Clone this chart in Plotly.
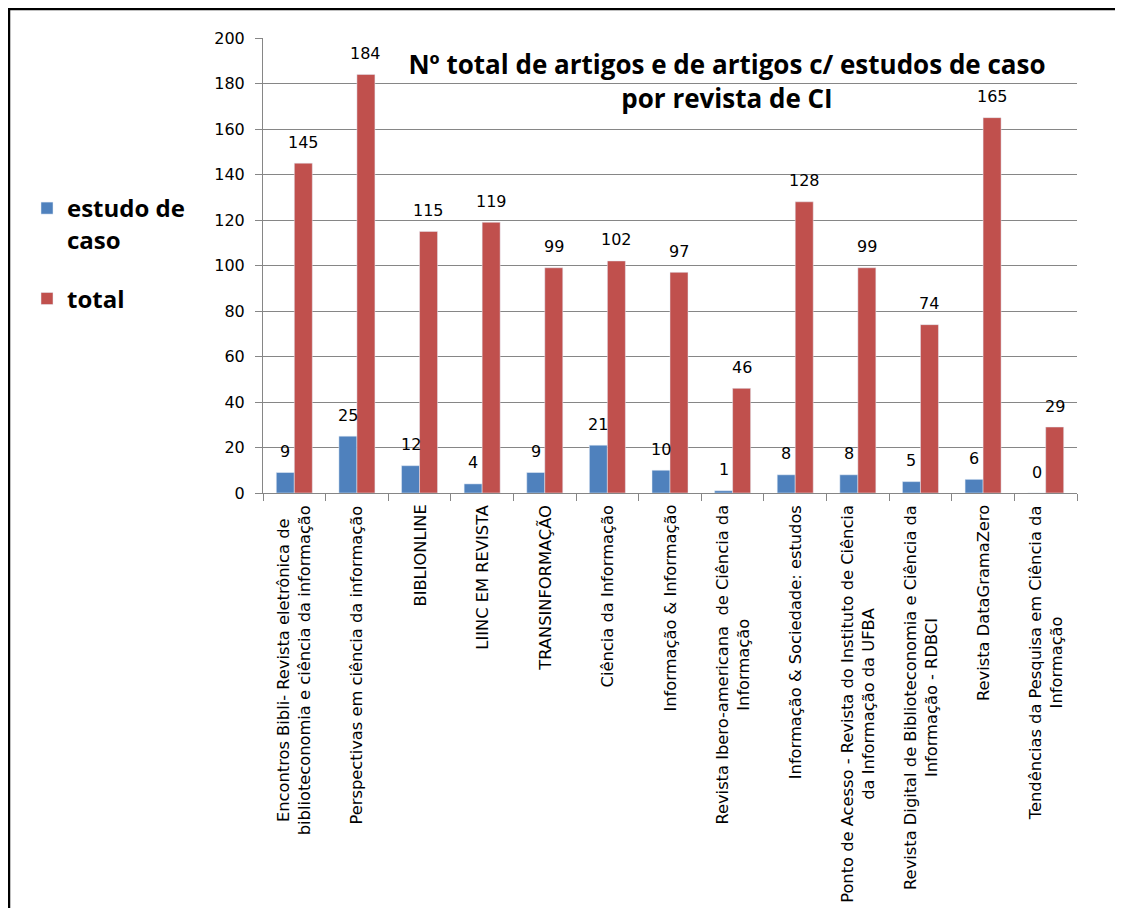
import plotly.graph_objects as go

categories = [
    "Encontros Bibli- Revista eletrônica de<br>biblioteconomia e ciência da informação",
    "Perspectivas em ciência da informação",
    "BIBLIONLINE",
    "LIINC EM REVISTA",
    "TRANSINFORMAÇÃO",
    "Ciência da Informação",
    "Informação & Informação",
    "Revista Ibero-americana  de Ciência da<br>Informação",
    "Informação & Sociedade: estudos",
    "Ponto de Acesso - Revista do Instituto de Ciência<br>da Informação da UFBA",
    "Revista Digital de Biblioteconomia e Ciência da<br>Informação - RDBCI",
    "Revista DataGramaZero",
    "Tendências da Pesquisa em Ciência da<br>Informação",
]
estudo_de_caso = [9, 25, 12, 4, 9, 21, 10, 1, 8, 8, 5, 6, 0]
total = [145, 184, 115, 119, 99, 102, 97, 46, 128, 99, 74, 165, 29]
y_ticks = [0, 20, 40, 60, 80, 100, 120, 140, 160, 180, 200]

BLUE = "#4F81BD"
RED = "#C0504D"
GRID = "#868686"
SANS = "DejaVu Sans"
BOLD = "Open Sans"

# figure size (page has an 8px body margin)
W, H = 1107, 900
# plot area in figure pixels
L, R, T, B = 255, 1069, 30, 485
PW, PH = R - L, B - T


def px(x):
    return (x - L) / PW


def py(y):
    return (B - y) / PH


fig = go.Figure()
fig.add_trace(go.Bar(name="estudo de<br>caso", x=categories, y=estudo_de_caso,
                     marker_color=BLUE, legendgroup="a"))
fig.add_trace(go.Bar(name="total", x=categories, y=total,
                     marker_color=RED, legendgroup="b"))

annotations = []
for cat, v in zip(categories, estudo_de_caso):
    annotations.append(dict(x=cat, y=v, xref="x", yref="y", text=str(v), showarrow=False,
                            xshift=-9, yshift=21, yanchor="middle",
                            font=dict(family=SANS, size=16, color="#000000")))
for cat, v in zip(categories, total):
    annotations.append(dict(x=cat, y=v, xref="x", yref="y", text=str(v), showarrow=False,
                            xshift=9, yshift=21, yanchor="middle",
                            font=dict(family=SANS, size=16, color="#000000")))
# category labels (rotated, centred lines like the original)
for cat in categories:
    annotations.append(dict(x=cat, y=0, xref="x", yref="paper", text=cat, showarrow=False,
                            textangle=-90, xanchor="center", yanchor="top", yshift=-10,
                            align="center",
                            font=dict(family=SANS, size=16.3, color="#000000")))

fig.update_layout(
    width=W, height=H,
    margin=dict(l=L, r=W - R, t=T, b=H - B, pad=0),
    paper_bgcolor="white", plot_bgcolor="white",
    barmode="group", bargap=0.425, bargroupgap=0,
    font=dict(family=SANS, color="#000000"),
    title=dict(text="<b>Nº total de artigos e de artigos c/ estudos de caso<br>por revista de CI</b>",
               x=719 / W, xanchor="center", y=1 - 66 / H, yanchor="middle",
               xref="container", yref="container",
               font=dict(family=BOLD, size=26, color="#000000")),
    legend=dict(x=px(19), xanchor="left", y=py(178), yanchor="top",
                font=dict(family=BOLD, size=24, color="#000000", weight="bold"),
                traceorder="grouped", tracegroupgap=25, valign="top",
                bgcolor="rgba(0,0,0,0)"),
    xaxis=dict(type="category", tickson="boundaries", ticks="outside",
               ticklen=7, tickcolor=GRID, showline=True, linecolor=GRID,
               linewidth=1, showgrid=False, showticklabels=False),
    yaxis=dict(range=[0, 200], tickvals=y_ticks, ticks="outside", ticklen=7,
               tickcolor=GRID, showline=True, linecolor=GRID, linewidth=1,
               showgrid=True, gridcolor=GRID, gridwidth=1, zeroline=False,
               ticklabelstandoff=7,
               tickfont=dict(family=SANS, size=16, color="#000000")),
    annotations=annotations,
    shapes=[dict(type="rect", xref="paper", yref="paper",
                 x0=px(1), x1=px(1300), y0=py(1200), y1=py(1),
                 line=dict(color="#000000", width=2.5), fillcolor="rgba(0,0,0,0)",
                 layer="below")],
)

fig.write_html("out.html")
